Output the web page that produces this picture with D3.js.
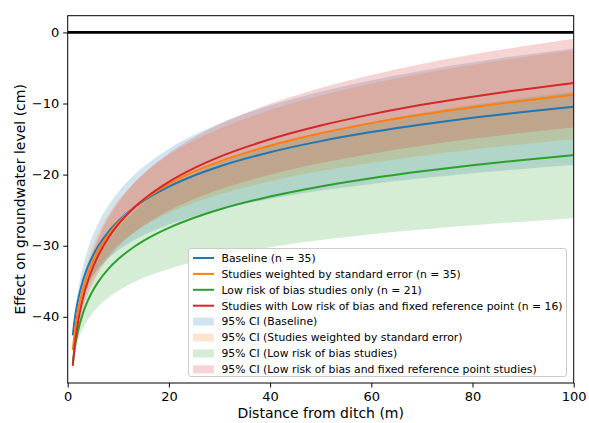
<!DOCTYPE html>
<html>
<head>
<meta charset="utf-8">
<script src="https://cdn.jsdelivr.net/npm/d3@7"></script>
<style>
  html, body { margin: 0; padding: 0; background: #fff; }
  svg { display: block; font-family: "DejaVu Sans", sans-serif; }
</style>
</head>
<body>
<svg id="chart" width="589" height="423"></svg>
<script>
// Distance from the ditch (m) at which each fitted curve is sampled
const distance = [1, 1.5, 2, 3, 4, 5, 6, 8, 10, 13, 16, 20, 25, 30, 40, 50, 60, 70, 80, 90, 100];

// Baseline (n = 35)
const baselineMean  = [-42.60, -39.77, -37.76, -34.93, -32.92, -31.37, -30.09, -28.09, -26.53, -24.70, -23.25, -21.69, -20.13, -18.86, -16.85, -15.29, -14.02, -12.95, -12.01, -11.19, -10.46];
const baselineUpper = [-42.60, -39.05, -36.53, -32.97, -30.45, -28.51, -26.90, -24.39, -22.43, -20.13, -18.32, -16.36, -14.40, -12.81, -10.28, -8.33, -6.73, -5.39, -4.21, -3.18, -2.26];
const baselineLower = [-42.60, -40.49, -38.99, -36.89, -35.39, -34.24, -33.28, -31.79, -30.63, -29.27, -28.19, -27.02, -25.86, -24.91, -23.42, -22.25, -21.31, -20.51, -19.81, -19.20, -18.66];

// Studies weighted by standard error (n = 35)
const weightedMean  = [-44.70, -41.54, -39.29, -36.13, -33.89, -32.15, -30.72, -28.48, -26.74, -24.69, -23.07, -21.33, -19.59, -18.17, -15.93, -14.19, -12.76, -11.56, -10.52, -9.60, -8.78];
const weightedUpper = [-44.70, -40.99, -38.35, -34.64, -32.01, -29.96, -28.28, -25.65, -23.61, -21.20, -19.30, -17.26, -15.21, -13.54, -10.91, -8.87, -7.19, -5.78, -4.56, -3.48, -2.52];
const weightedLower = [-44.70, -42.09, -40.23, -37.62, -35.78, -34.34, -33.16, -31.31, -29.87, -28.18, -26.84, -25.40, -23.97, -22.80, -20.95, -19.51, -18.33, -17.34, -16.48, -15.72, -15.04];

// Low risk of bias studies only (n = 21)
const lowRiskMean  = [-46.50, -43.93, -42.10, -39.52, -37.70, -36.28, -35.12, -33.30, -31.88, -30.21, -28.89, -27.48, -26.06, -24.90, -23.08, -21.66, -20.50, -19.52, -18.67, -17.93, -17.26];
const lowRiskUpper = [-46.50, -43.15, -40.76, -37.40, -35.02, -33.17, -31.66, -29.29, -27.44, -25.26, -23.54, -21.70, -19.85, -18.34, -15.96, -14.11, -12.60, -11.32, -10.21, -9.25, -8.37];
const lowRiskLower = [-46.50, -44.71, -43.44, -41.64, -40.38, -39.39, -38.58, -37.31, -36.32, -35.16, -34.24, -33.26, -32.27, -31.46, -30.20, -29.21, -28.40, -27.72, -27.13, -26.62, -26.15];

// Low risk of bias and fixed reference point (n = 16)
const fixedRefMean  = [-46.90, -43.40, -40.91, -37.41, -34.92, -33.00, -31.42, -28.93, -27.01, -24.74, -22.95, -21.02, -19.09, -17.51, -15.03, -13.10, -11.53, -10.19, -9.04, -8.02, -7.11];
const fixedRefUpper = [-46.90, -42.85, -39.97, -35.93, -33.05, -30.83, -29.00, -26.12, -23.90, -21.28, -19.21, -16.98, -14.74, -12.92, -10.05, -7.82, -6.00, -4.46, -3.12, -1.95, -0.89];
const fixedRefLower = [-46.90, -43.95, -41.85, -38.89, -36.79, -35.17, -33.84, -31.74, -30.12, -28.20, -26.69, -25.06, -23.44, -22.10, -20.01, -18.38, -17.06, -15.93, -14.96, -14.10, -13.33];

const xTicks = [0, 20, 40, 60, 80, 100];
const yTicks = [0, -10, -20, -30, -40];

const lineLabels = [
  "Baseline (n = 35)",
  "Studies weighted by standard error (n = 35)",
  "Low risk of bias studies only (n = 21)",
  "Studies with Low risk of bias and fixed reference point (n = 16)"
];
const bandLabels = [
  "95% CI (Baseline)",
  "95% CI (Studies weighted by standard error)",
  "95% CI (Low risk of bias studies)",
  "95% CI (Low risk of bias and fixed reference point studies)"
];
const colors = ["#1f77b4", "#ff7f0e", "#2ca02c", "#d62728"];

const series = [
  { mean: baselineMean, upper: baselineUpper, lower: baselineLower },
  { mean: weightedMean, upper: weightedUpper, lower: weightedLower },
  { mean: lowRiskMean,  upper: lowRiskUpper,  lower: lowRiskLower },
  { mean: fixedRefMean, upper: fixedRefUpper, lower: fixedRefLower }
];

const svg = d3.select("#chart");
const W = 589, H = 423;
const margin = { left: 67.7, right: W - 573.7, top: 15.7, bottom: H - 383 };

const x = d3.scaleLinear().domain([0, 100]).range([margin.left, W - margin.right]);
const y = d3.scaleLinear().domain([-49.31, 2.35]).range([H - margin.bottom, margin.top]);

svg.append("defs").append("clipPath").attr("id", "plotClip")
  .append("rect")
  .attr("x", x(0)).attr("y", y(2.35))
  .attr("width", x(100) - x(0)).attr("height", y(-49.31) - y(2.35));

const plot = svg.append("g").attr("clip-path", "url(#plotClip)");

const curve = d3.curveMonotoneX;

// confidence bands
series.forEach((s, i) => {
  const area = d3.area()
    .x((d, j) => x(distance[j]))
    .y0((d, j) => y(s.lower[j]))
    .y1((d, j) => y(s.upper[j]))
    .curve(curve);
  plot.append("path")
    .attr("d", area(distance))
    .attr("fill", colors[i])
    .attr("fill-opacity", 0.2)
    .attr("stroke", "none");
});

// fitted curves
series.forEach((s, i) => {
  const line = d3.line()
    .x((d, j) => x(distance[j]))
    .y((d, j) => y(s.mean[j]))
    .curve(curve);
  plot.append("path")
    .attr("d", line(distance))
    .attr("fill", "none")
    .attr("stroke", colors[i])
    .attr("stroke-width", 2);
});

// zero reference line
plot.append("line")
  .attr("x1", x(0)).attr("x2", x(100))
  .attr("y1", y(0)).attr("y2", y(0))
  .attr("stroke", "#000").attr("stroke-width", 2.7);

// axes
const fmt = d => (d < 0 ? "\u2212" + Math.abs(d) : String(d));
const xAxis = d3.axisBottom(x).tickValues(xTicks).tickFormat(fmt).tickSizeInner(4.5).tickSizeOuter(0).tickPadding(4);
const yAxis = d3.axisLeft(y).tickValues(yTicks).tickFormat(fmt).tickSizeInner(4.5).tickSizeOuter(0).tickPadding(4);

const gx = svg.append("g").attr("transform", `translate(0,${H - margin.bottom})`).call(xAxis);
const gy = svg.append("g").attr("transform", `translate(${margin.left},0)`).call(yAxis);
[gx, gy].forEach(g => {
  g.select(".domain").remove();
  g.selectAll(".tick line").attr("stroke", "#000").attr("stroke-width", 1);
  g.selectAll(".tick text").attr("fill", "#000").style("font-size", "13px").style("font-family", "DejaVu Sans");
});

// frame
svg.append("rect")
  .attr("x", x(0)).attr("y", y(2.35))
  .attr("width", x(100) - x(0)).attr("height", y(-49.31) - y(2.35))
  .attr("fill", "none").attr("stroke", "#000").attr("stroke-width", 1);

// axis titles
svg.append("text")
  .attr("x", (x(0) + x(100)) / 2).attr("y", 418)
  .attr("text-anchor", "middle")
  .style("font-size", "14px")
  .text("Distance from ditch (m)");
svg.append("text")
  .attr("transform", `translate(25,${(y(2.35) + y(-49.31)) / 2}) rotate(-90)`)
  .attr("text-anchor", "middle")
  .style("font-size", "14px")
  .text("Effect on groundwater level (cm)");

// legend
const legX = 188.5, legY = 248.5, legW = 378, legH = 128, rowH = 15.9;
const leg = svg.append("g");
leg.append("rect")
  .attr("x", legX).attr("y", legY).attr("width", legW).attr("height", legH)
  .attr("rx", 2.5).attr("fill", "#fff").attr("fill-opacity", 0.8)
  .attr("stroke", "#ccc").attr("stroke-width", 1);

const entries = lineLabels.map((t, i) => ({ text: t, kind: "line", color: colors[i] }))
  .concat(bandLabels.map((t, i) => ({ text: t, kind: "band", color: colors[i] })));

entries.forEach((e, k) => {
  const cy = legY + 9.5 + k * rowH;
  if (e.kind === "line") {
    leg.append("line")
      .attr("x1", legX + 4.5).attr("x2", legX + 25.5)
      .attr("y1", cy).attr("y2", cy)
      .attr("stroke", e.color).attr("stroke-width", 2);
  } else {
    leg.append("rect")
      .attr("x", legX + 4.5).attr("y", cy - 4).attr("width", 21).attr("height", 8)
      .attr("fill", e.color).attr("fill-opacity", 0.2);
  }
  leg.append("text")
    .attr("x", legX + 33).attr("y", cy + 3.8)
    .style("font-size", "10.8px")
    .attr("fill", "#000")
    .text(e.text);
});
</script>
</body>
</html>
